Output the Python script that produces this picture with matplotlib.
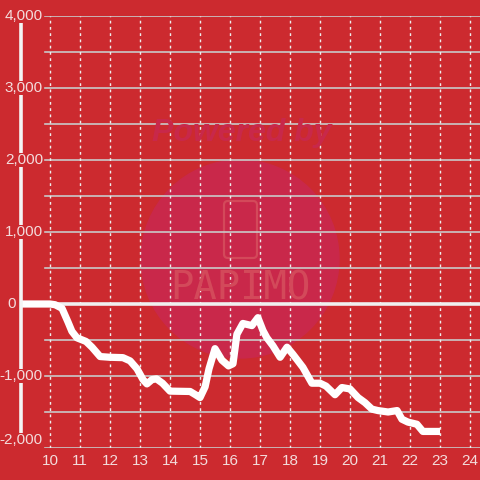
import matplotlib
matplotlib.use("Agg")
import matplotlib.pyplot as plt
from matplotlib.patches import Circle, FancyBboxPatch
from matplotlib.lines import Line2D

# hours of the day and running value
hours = [9.0, 10.0, 10.17, 10.4, 10.6, 10.73, 10.9, 11.2, 11.4, 11.67, 12.0, 12.43,
         12.67, 12.9, 13.1, 13.23, 13.4, 13.55, 13.75, 14.0, 14.67, 14.85, 15.0,
         15.17, 15.3, 15.5, 15.73, 15.95, 16.1, 16.23, 16.43, 16.73, 16.93, 17.1,
         17.23, 17.43, 17.67, 17.9, 18.1, 18.43, 18.73, 19.0, 19.2, 19.5, 19.73,
         20.0, 20.27, 20.5, 20.73, 20.93, 21.27, 21.57, 21.73, 21.93, 22.23, 22.43,
         23.0]
values = [0, 0, -10, -60, -250, -380, -470, -520, -600, -730, -740, -745,
          -790, -900, -1050, -1110, -1050, -1040, -1100, -1210, -1215, -1260, -1300,
          -1150, -900, -620, -780, -860, -830, -420, -270, -300, -190, -370,
          -470, -580, -740, -600, -700, -880, -1100, -1100, -1140, -1260, -1160,
          -1180, -1300, -1370, -1460, -1480, -1500, -1480, -1600, -1640, -1670, -1770,
          -1770]

x_ticks = list(range(10, 25))
y_ticks = [-2000, -1000, 0, 1000, 2000, 3000, 4000]
y_grid = list(range(-2000, 4001, 500))

bg = "#cc2a2f"
txt = "#f3dcdc"

plt.rcParams['font.family'] = ['Liberation Sans', 'DejaVu Sans']

fig = plt.figure(figsize=(4.8, 4.8), dpi=100, facecolor=bg)
ax = fig.add_axes([20 / 480, 32 / 480, 460 / 480, 432 / 480])
ax.set_facecolor(bg)
ax.set_xlim(9, 9 + 460 / 30)
ax.set_ylim(-2000, 4000)
for s in ax.spines.values():
    s.set_visible(False)
ax.set_xticks([])
ax.set_yticks([])

# watermark
wm = "#c9284a"
mark = "#d3495a"
ax.add_patch(Circle((240, 221), 99, transform=None, color=wm, zorder=0))
fig.text(242 / 480, 1 - 133 / 480, "Powered by", ha="center", va="center",
         fontsize=23, fontweight="bold", style="italic", color="#c8284a", zorder=0)
fig.text(240 / 480, 1 - 288 / 480, "PAPIMO", ha="center", va="center",
         fontsize=28, color=mark, zorder=0.5, family="DejaVu Sans Mono")
ax.add_patch(FancyBboxPatch((224, 480 - 258), 33, 57, boxstyle="round,pad=0,rounding_size=4",
                            transform=None, fill=False, ec=mark, lw=1.6, zorder=0.5))

# grid
x_start = 9 + 25 / 30
for y in y_grid:
    if y == 0:
        continue
    ax.plot([x_start, 24.4], [y, y], color="#c9c9c9", lw=1.2, zorder=1)
for x in x_ticks:
    ax.plot([x, x], [-2000, 4000], color="#eeeeee", lw=1, ls=(0, (2, 2.5)), zorder=1)
ax.plot([9, 24.4], [0, 0], color="#f0f0f0", lw=2.6, zorder=2)

ax.plot(hours, values, color="white", lw=5.2, solid_joinstyle="round",
        solid_capstyle="butt", zorder=3)

# left bar
fig.add_artist(Line2D([21 / 480, 21 / 480], [1 - 24 / 480, 1 - 436 / 480],
                      color="#f4f4f4", lw=2.6))

for y in y_ticks:
    if y == 0:
        fig.text(16 / 480, 1 - 304 / 480, "0", ha="right", va="center",
                 fontsize=11, color=txt)
        continue
    py = 440 if y == -2000 else 304 - y * 72 / 1000
    fig.text(43 / 480, 1 - py / 480, f"{y:,}", ha="right", va="center",
             fontsize=11, color=txt, zorder=5,
             bbox=dict(facecolor=bg, edgecolor="none", pad=0.3))
for x in x_ticks:
    fig.text((20 + (x - 9) * 30) / 480, 1 - 461 / 480, str(x), ha="center",
             va="center", fontsize=11, color=txt)

fig.savefig("out.png", dpi=100, facecolor=bg)
